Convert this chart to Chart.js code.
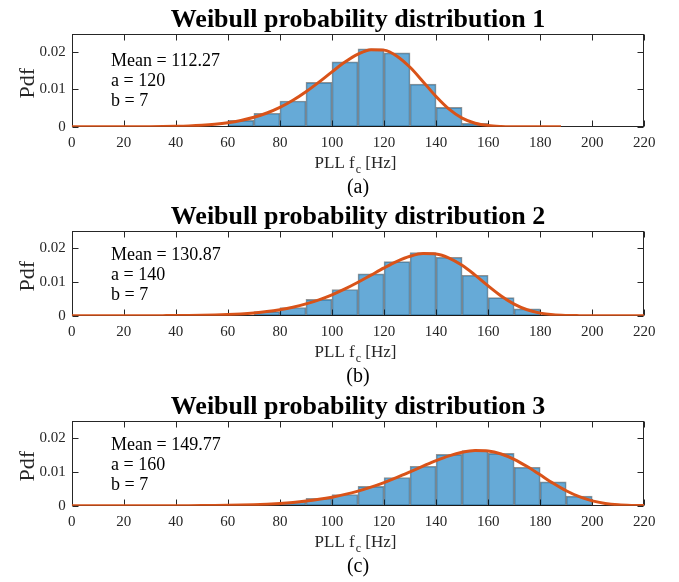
<!DOCTYPE html>
<html>
<head>
<meta charset="utf-8">
<script src="https://cdn.jsdelivr.net/npm/chart.js@4.4.1/dist/chart.umd.min.js"></script>
<style>
  html, body { margin: 0; padding: 0; background: #fff; }
  #wrap { position: relative; width: 679px; height: 582px; overflow: hidden; }
  canvas { position: absolute; left: 0; }
</style>
</head>
<body>
<div id="wrap">
  <canvas id="c1" width="679" height="197" style="top:0px"></canvas>
  <canvas id="c2" width="679" height="190" style="top:197px"></canvas>
  <canvas id="c3" width="679" height="195" style="top:387px"></canvas>
</div>
<script>
const X_TICKS = [0, 20, 40, 60, 80, 100, 120, 140, 160, 180, 200, 220];
const Y_TICKS = [0, 0.01, 0.02];

const TITLES = ['Weibull probability distribution 1', 'Weibull probability distribution 2', 'Weibull probability distribution 3'];
const PANEL_LABELS = ['(a)', '(b)', '(c)'];
const MEAN_LABELS = ['Mean = 112.27', 'Mean = 130.87', 'Mean = 149.77'];
const A_LABELS = ['a = 120', 'a = 140', 'a = 160'];
const B_LABELS = ['b = 7', 'b = 7', 'b = 7'];

// histogram bins: left edges (10 Hz wide) and pdf heights
const BINS_1 = [60, 70, 80, 90, 100, 110, 120, 130, 140, 150];
const HIST_1 = [0.0017, 0.0036, 0.0069, 0.0119, 0.0174, 0.0209, 0.0198, 0.0114, 0.0052, 0.0009];
const BINS_2 = [70, 80, 90, 100, 110, 120, 130, 140, 150, 160, 170];
const HIST_2 = [0.0012, 0.0024, 0.0048, 0.0077, 0.0123, 0.0159, 0.0186, 0.0172, 0.0119, 0.0053, 0.0020];
const BINS_3 = [80, 90, 100, 110, 120, 130, 140, 150, 160, 170, 180, 190];
const HIST_3 = [0.0011, 0.0022, 0.0033, 0.0057, 0.0083, 0.0116, 0.0151, 0.0162, 0.0154, 0.0113, 0.0070, 0.0028];

// fitted curves
const FIT_X_1 = [0, 5, 10, 15, 20, 25, 30, 35, 40, 45, 50, 55, 60, 65, 70, 75, 80, 85, 90, 95, 100, 105, 110, 115, 120, 125, 130, 135, 140, 145, 150, 155, 160, 165, 170, 175, 180, 185, 188];
const FIT_Y_1 = [0, 0, 0, 0, 0, 0.00001, 0.00002, 0.00005, 0.00011, 0.00021, 0.00038, 0.00065, 0.00106, 0.00167, 0.00252, 0.00367, 0.00518, 0.00708, 0.00937, 0.01196, 0.01471, 0.01733, 0.01946, 0.02066, 0.02054, 0.01893, 0.01594, 0.01209, 0.00810, 0.00470, 0.00230, 0.00093, 0.00030, 0.00007, 0.00001, 0, 0, 0, 0];
const FIT_X = [0, 5, 10, 15, 20, 25, 30, 35, 40, 45, 50, 55, 60, 65, 70, 75, 80, 85, 90, 95, 100, 105, 110, 115, 120, 125, 130, 135, 140, 145, 150, 155, 160, 165, 170, 175, 180, 185, 190, 195, 200, 205, 210, 215, 220];
const FIT_Y_2 = [0, 0, 0, 0, 0, 0.00001, 0.00001, 0.00002, 0.00003, 0.00006, 0.00011, 0.00020, 0.00033, 0.00053, 0.00082, 0.00122, 0.00178, 0.00251, 0.00347, 0.00467, 0.00614, 0.00787, 0.00983, 0.01194, 0.01405, 0.01598, 0.01747, 0.01827, 0.01813, 0.01696, 0.01481, 0.01194, 0.00878, 0.00581, 0.00341, 0.00174, 0.00075, 0.00027, 0.00008, 0.00002, 0, 0, 0, 0, 0];
const FIT_Y_3 = [0, 0, 0, 0, 0, 0, 0, 0, 0.00001, 0.00002, 0.00004, 0.00007, 0.00012, 0.00020, 0.00031, 0.00046, 0.00068, 0.00097, 0.00136, 0.00187, 0.00251, 0.00332, 0.00430, 0.00546, 0.00681, 0.00833, 0.00996, 0.01164, 0.01326, 0.01467, 0.01572, 0.01624, 0.01610, 0.01522, 0.01365, 0.01152, 0.00907, 0.00660, 0.00439, 0.00264, 0.00142, 0.00067, 0.00027, 0.00009, 0.00003];

const BAR_FILL = 'rgba(0, 114, 189, 0.6)';
const BAR_EDGE = 'rgba(0, 0, 0, 0.42)';
const LINE_COLOR = '#D95319';
const AXIS_COLOR = '#262626';
const SERIF = '"Liberation Serif", "Times New Roman", serif';

Chart.defaults.font.family = SERIF;

// box, inward ticks and the MATLAB-style text
const matlabAxes = {
  id: 'matlabAxes',
  beforeDatasetsDraw(chart) {
    const { ctx, chartArea: a, scales: { x, y } } = chart;
    const L = Math.round(a.left) + 0.5, R = Math.round(a.right) - 0.5;
    const T = Math.round(a.top) + 0.5, B = Math.round(a.bottom) - 0.5;
    ctx.save();
    ctx.strokeStyle = AXIS_COLOR;
    ctx.lineWidth = 1;
    ctx.strokeRect(L, T, R - L, B - T);
    ctx.beginPath();
    X_TICKS.forEach(v => {
      const px = Math.round(x.getPixelForValue(v)) + 0.5;
      ctx.moveTo(px, B); ctx.lineTo(px, B - 6);
      ctx.moveTo(px, T); ctx.lineTo(px, T + 6);
    });
    Y_TICKS.forEach(v => {
      const py = Math.round(y.getPixelForValue(v)) + 0.5;
      ctx.moveTo(L, py); ctx.lineTo(L + 6, py);
      ctx.moveTo(R, py); ctx.lineTo(R - 6, py);
    });
    ctx.stroke();
    ctx.restore();
  },
  afterDraw(chart, args, opts) {
    const { ctx, chartArea: a, scales: { x, y } } = chart;
    const cx = (a.left + a.right) / 2;
    ctx.save();
    ctx.fillStyle = '#000';

    // title
    ctx.font = `bold 26px ${SERIF}`;
    ctx.textAlign = 'center';
    ctx.textBaseline = 'alphabetic';
    ctx.fillText(opts.title, cx, a.top - 7);

    // parameter box text
    ctx.font = `18px ${SERIF}`;
    ctx.textAlign = 'left';
    const tx = x.getPixelForValue(15.1);
    const ty = y.getPixelForValue(0.0164);
    [opts.mean, opts.a, opts.b].forEach((s, i) => ctx.fillText(s, tx, ty + i * 20));

    // x label with subscript
    ctx.fillStyle = AXIS_COLOR;
    const base = a.bottom + 41.5;
    ctx.font = `17px ${SERIF}`;
    const p1 = 'PLL f', p3 = ' [Hz]';
    const w1 = ctx.measureText(p1).width, w3 = ctx.measureText(p3).width;
    ctx.font = `12px ${SERIF}`;
    const w2 = ctx.measureText('c').width;
    let sx = cx - 3 - (w1 + w2 + w3) / 2;
    ctx.font = `17px ${SERIF}`;
    ctx.fillText(p1, sx, base);
    ctx.font = `12px ${SERIF}`;
    ctx.fillText('c', sx + w1 + 1, base + 5);
    ctx.font = `17px ${SERIF}`;
    ctx.fillText(p3, sx + w1 + w2 + 1, base);

    // panel label
    ctx.fillStyle = '#000';
    ctx.font = `20px ${SERIF}`;
    ctx.textAlign = 'center';
    ctx.fillText(opts.panel, cx, a.bottom + 66);

    // y label
    ctx.fillStyle = AXIS_COLOR;
    ctx.font = `22px ${SERIF}`;
    ctx.translate(28, (a.top + a.bottom) / 2 + 3);
    ctx.rotate(-Math.PI / 2);
    ctx.textBaseline = 'middle';
    ctx.fillText('Pdf', 0, 0);
    ctx.restore();
  }
};

function makeChart(id, idx, bins, hist, fitX, fitY, top, bottom) {
  const canvas = document.getElementById(id);
  const H = canvas.height;
  return new Chart(canvas, {
    type: 'bar',
    data: {
      datasets: [
        {
          type: 'line',
          data: fitX.map((v, i) => ({ x: v, y: fitY[i] })),
          borderColor: LINE_COLOR,
          borderWidth: 3,
          pointRadius: 0,
          cubicInterpolationMode: 'monotone',
          order: 0,
        },
        {
          type: 'bar',
          data: bins.map((v, i) => ({ x: v + 5, y: hist[i] })),
          backgroundColor: BAR_FILL,
          borderColor: BAR_EDGE,
          borderWidth: 1,
          borderSkipped: false,
          barPercentage: 1,
          categoryPercentage: 1,
          order: 1,
        }
      ]
    },
    options: {
      responsive: false,
      animation: false,
      devicePixelRatio: 1,
      layout: { padding: { top: top, right: 679 - 644.3, bottom: 0, left: 0 } },
      plugins: {
        legend: { display: false },
        title: { display: false },
        tooltip: { enabled: false },
        matlabAxes: { title: TITLES[idx], panel: PANEL_LABELS[idx], mean: MEAN_LABELS[idx], a: A_LABELS[idx], b: B_LABELS[idx] }
      },
      scales: {
        x: {
          type: 'linear', min: 0, max: 220, offset: false,
          afterBuildTicks: s => { s.ticks = X_TICKS.map(v => ({ value: v })); },
          afterFit: s => { s.height = H - bottom; },
          ticks: { color: AXIS_COLOR, font: { size: 15 }, padding: 7, maxRotation: 0 },
          grid: { display: false, drawTicks: false },
          border: { display: false }
        },
        y: {
          min: 0, max: 0.025,
          afterBuildTicks: s => { s.ticks = Y_TICKS.map(v => ({ value: v })); },
          afterFit: s => { s.width = 71.7; },
          ticks: { color: AXIS_COLOR, font: { size: 15 }, padding: 6, callback: v => String(v) },
          grid: { display: false, drawTicks: false },
          border: { display: false }
        }
      }
    },
    plugins: [matlabAxes]
  });
}

makeChart('c1', 0, BINS_1, HIST_1, FIT_X_1, FIT_Y_1, 33.5, 126.7);
makeChart('c2', 1, BINS_2, HIST_2, FIT_X, FIT_Y_2, 230.7 - 197, 315.7 - 197);
makeChart('c3', 2, BINS_3, HIST_3, FIT_X, FIT_Y_3, 420.7 - 387, 505.7 - 387);
</script>
</body>
</html>
